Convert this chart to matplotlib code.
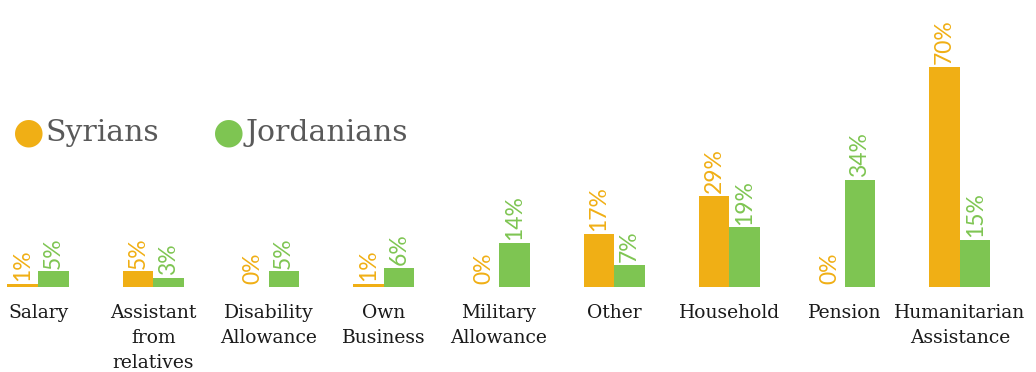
import matplotlib

matplotlib.use("Agg")
import matplotlib.pyplot as plt  # noqa: E402
import numpy as np  # noqa: E402

# Share of households per income source (%)
CATEGORIES = ["Salary", "Assistant\nfrom\nrelatives", "Disability\nAllowance",
              "Own\nBusiness", "Military\nAllowance", "Other", "Household",
              "Pension", "Humanitarian\nAssistance"]
SYRIANS = [1, 5, 0, 1, 0, 17, 29, 0, 70]
JORDANIANS = [5, 3, 5, 6, 14, 7, 19, 34, 15]

ORANGE = "#F0AF15"
GREEN = "#7EC552"
WIDTH = 0.265

fig = plt.figure(figsize=(10.36, 3.72), dpi=100)
ax = fig.add_axes([0, 0, 1, 1])

x = np.arange(len(CATEGORIES))
ax.bar(x - WIDTH / 2, SYRIANS, WIDTH, color=ORANGE)
ax.bar(x + WIDTH / 2, JORDANIANS, WIDTH, color=GREEN)

for xi, s, j in zip(x, SYRIANS, JORDANIANS):
    for off, v, c in ((-WIDTH / 2, s, ORANGE), (WIDTH / 2, j, GREEN)):
        ax.annotate(f"{v}%", (xi + off, v), xytext=(0, 2),
                    textcoords="offset points", rotation=90, ha="center",
                    va="bottom", color=c, fontsize=16.5, family="Lato")

for xi, name in zip(x, CATEGORIES):
    ax.annotate(name, (xi, 0), xytext=(0, -12), textcoords="offset points",
                ha="center", va="top", fontsize=13.5, color="#1a1a1a",
                family="DejaVu Serif", linespacing=1.5)

# legend drawn by hand: big dots with serif labels
for lx, name, c in ((0.028, "Syrians", ORANGE), (0.221, "Jordanians", GREEN)):
    fig.text(lx, 0.643, "\u25CF", color=c, fontsize=26, ha="center",
             va="center", family="DejaVu Sans")
    fig.text(lx + 0.016, 0.643, name, color="#595959", fontsize=21.5,
             ha="left", va="center", family="DejaVu Serif")

ax.set_xlim(-0.33, 8.66)
ax.set_ylim(-27.07, 91.4)
ax.axis("off")

fig.savefig("out.png", dpi=100)
